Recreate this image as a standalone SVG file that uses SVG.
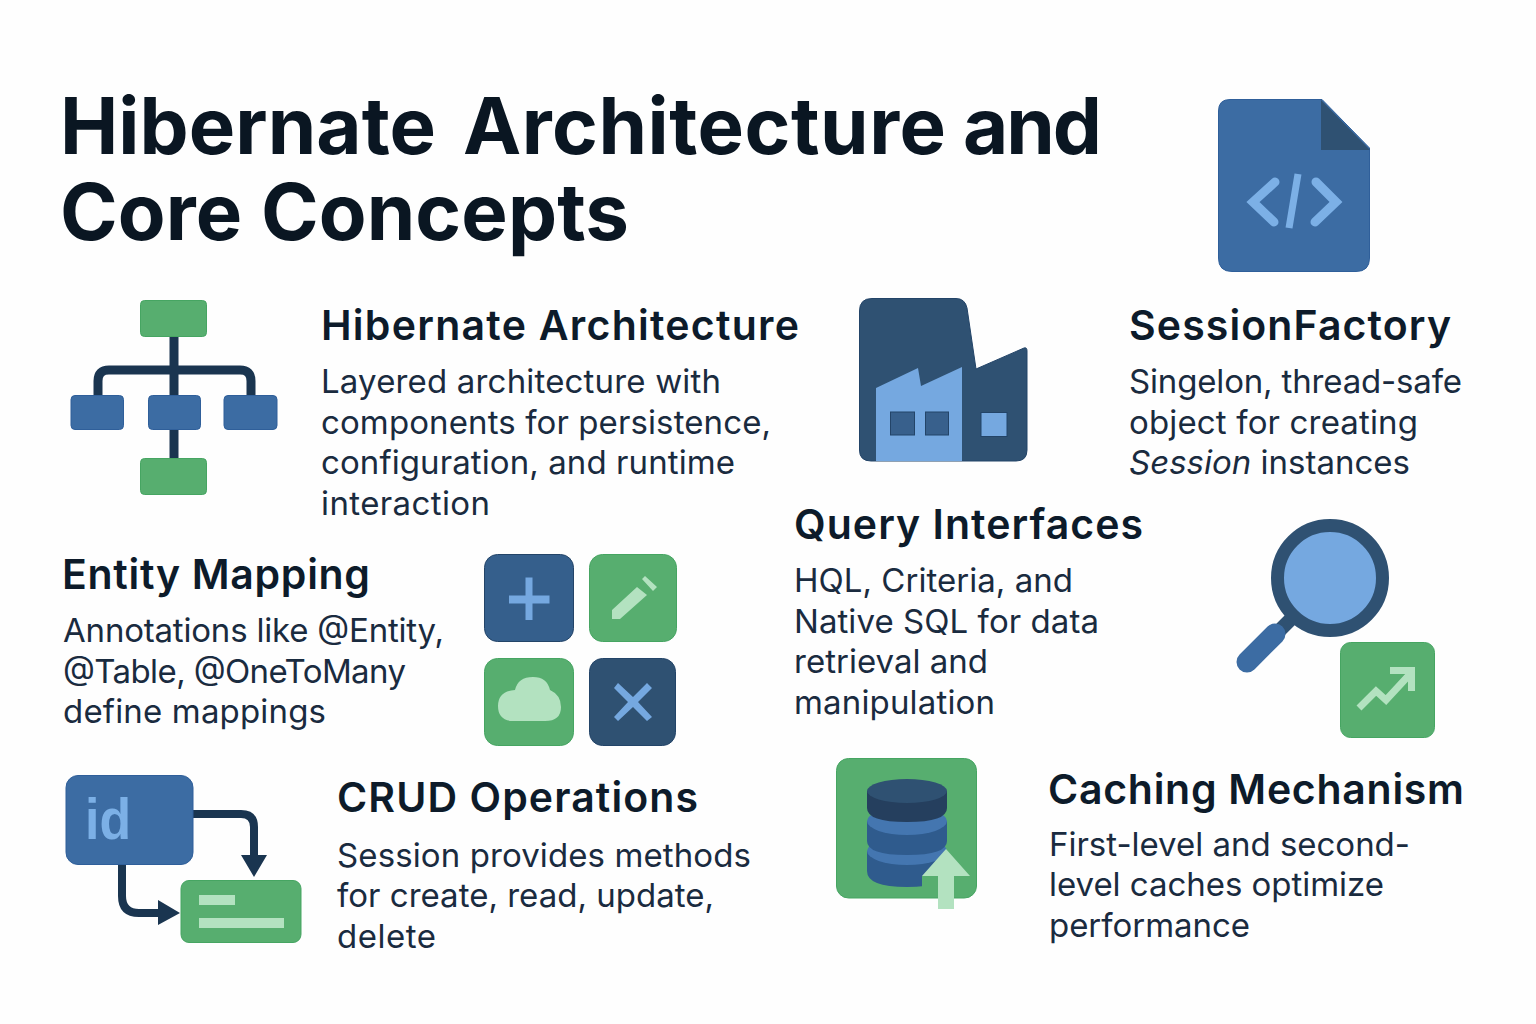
<svg xmlns="http://www.w3.org/2000/svg" width="1536" height="1024" viewBox="0 0 1536 1024">
<style>
text{font-family:Inter,"Liberation Sans",sans-serif;fill:#0d1b2a}
.t{font-size:78px;font-weight:700;fill:#0a1622}
.h{font-size:41px;font-weight:600}
.b{font-size:33px;font-weight:400;fill:#1a2b3f}
.green{fill:#57ae6f;stroke:#46a562;stroke-width:1}
.blue{fill:#3c6ca3;stroke:#2f5f9a;stroke-width:1}
.navy{fill:#2f5172;stroke:#234468;stroke-width:1}
.light{fill:#75a8e0}
.mint{fill:#b3e2c0}
.wire{fill:none;stroke:#1a3550;stroke-linejoin:round}
</style>
<rect width="1536" height="1024" fill="#fefefe"/>
<g id="title">
<text class="t" x="60" y="154" textLength="376">Hibernate</text>
<text class="t" x="463" y="154" textLength="483">Architecture</text>
<text class="t" x="963" y="154" textLength="139">and</text>
<text class="t" x="60" y="240" textLength="569">Core Concepts</text>
</g>
<g id="connectors">
<path class="wire" stroke-width="9" d="M174 337V458M98 395V381Q98 370 109 370H240Q251 370 251 381V395"/>
<path class="wire" stroke-width="8" d="M193 814H241Q254 814 254 827V858M122 865V896Q122 913 139 913H160"/>
<path d="M241 855H267L254 877ZM158 900V925L180 913Z" fill="#1a3550"/>
</g>
<g id="hibernate-architecture">
<rect class="green" x="140.500" y="300.500" width="66" height="36" rx="4"/>
<rect class="blue" x="71" y="395.500" width="52.500" height="34" rx="4"/>
<rect class="blue" x="148.500" y="395.500" width="52" height="34" rx="4"/>
<rect class="blue" x="224" y="395.500" width="53" height="34" rx="4"/>
<rect class="green" x="140.500" y="458.500" width="66" height="36" rx="4"/>
<text class="h" x="321" y="340" textLength="478">Hibernate Architecture</text>
<text class="b" x="321" y="393" textLength="400">Layered architecture with</text>
<text class="b" x="321" y="434" textLength="450">components for persistence,</text>
<text class="b" x="321" y="474" textLength="414">configuration, and runtime</text>
<text class="b" x="321" y="515" textLength="169">interaction</text>
</g>
<g id="session-factory">
<path class="navy" d="M872 298.500H956Q965 298.500 967 308L976 369L1024 348Q1027 347 1027 351V450Q1027 461 1016 461H871Q859.500 461 859.500 450V311Q859.500 298.500 872 298.500Z"/>
<path class="light" d="M876 388L918 368L921 386L962 367V461H876Z"/>
<rect class="navy" x="890.500" y="412" width="24" height="23" style="fill:#38608c"/>
<rect class="navy" x="925.500" y="412" width="23" height="23" style="fill:#38608c"/>
<rect class="light" x="981" y="412.500" width="26" height="24" stroke="#234468"/>
<text class="h" x="1129" y="340" textLength="322">SessionFactory</text>
<text class="b" x="1129" y="393" textLength="333">Singelon, thread-safe</text>
<text class="b" x="1129" y="434" textLength="289">object for creating</text>
<text class="b" x="1129" y="474" textLength="281"><tspan font-style="italic">Session</tspan> instances</text>
</g>
<g id="document">
<path class="blue" d="M1230 99.500H1322L1369.500 148V258Q1369.500 271.500 1356 271.500H1232Q1218.500 271.500 1218.500 258V111Q1218.500 99.500 1230 99.500Z"/>
<path d="M1321 100L1370 150H1321Z" fill="#2f5172"/>
<path d="M1275 182L1253 202L1274 222M1316 182L1336 202L1315 222" fill="none" stroke="#7cb0e6" stroke-width="9" stroke-linecap="round"/>
<path d="M1298 174L1289 228" fill="none" stroke="#7cb0e6" stroke-width="7"/>
</g>
<g id="entity-mapping">
<text class="h" x="62" y="589" textLength="308">Entity Mapping</text>
<text class="b" x="63" y="642" textLength="381">Annotations like @Entity,</text>
<text class="b" x="63" y="683" textLength="343">@Table, @OneToMany</text>
<text class="b" x="63" y="723" textLength="263">define mappings</text>
<rect class="navy" x="484.500" y="554.500" width="89" height="87" rx="13" style="fill:#355f8c"/>
<path d="M525.500 577.500H532.500V595.500H549.500V603.500H532.500V620H525.500V603.500H509V595.500H525.500Z" class="light"/>
<rect class="green" x="589.500" y="554.500" width="87" height="87" rx="13"/>
<path class="mint" d="M637 587L647 595L620 619H612V610ZM642 579L645 576L657 587L653 591Z"/>
<rect class="green" x="484.500" y="658.500" width="89" height="87" rx="13"/>
<path class="mint" d="M512 721Q498 720 498 706Q498 691 515 690Q518 677 533 677Q547 677 550 690Q561 695 561 707Q561 721 545 721Z"/>
<rect class="navy" x="589.500" y="658.500" width="86" height="87" rx="13"/>
<path d="M618 683L633 697L647 683L652 688L638 702L652 717L647 721L633 707L618 721L614 717L628 702L614 688Z" class="light"/>
</g>
<g id="query-interfaces">
<text class="h" x="794" y="539" textLength="349">Query Interfaces</text>
<text class="b" x="794" y="592" textLength="279">HQL, Criteria, and</text>
<text class="b" x="794" y="633" textLength="305">Native SQL for data</text>
<text class="b" x="794" y="673" textLength="194">retrieval and</text>
<text class="b" x="794" y="714" textLength="201">manipulation</text>
<path d="M1292 618L1280 630" stroke="#2f5172" stroke-width="14"/>
<path d="M1247 662L1275 634" stroke="#3c6ca3" stroke-width="21" stroke-linecap="round"/>
<circle cx="1330" cy="578" r="52.500" fill="#75a8e0" stroke="#2f5172" stroke-width="13"/>
<rect class="green" x="1340.500" y="642.500" width="94" height="95" rx="10"/>
<path d="M1359 708L1376 691L1386 700L1411 673" fill="none" stroke="#b3e2c0" stroke-width="7"/>
<path d="M1390 670.500H1411.500V691" fill="none" stroke="#b3e2c0" stroke-width="7"/>
</g>
<g id="crud-operations">
<rect class="blue" x="66" y="775.500" width="127" height="89" rx="12"/>
<text x="85" y="839" font-size="58" font-weight="700" style="fill:#7cb0e6;font-family:'Liberation Sans',sans-serif" textLength="46" lengthAdjust="spacingAndGlyphs">id</text>
<rect class="green" x="181" y="880.500" width="120" height="62" rx="8"/>
<rect class="mint" x="199" y="895" width="36" height="10"/>
<rect class="mint" x="199" y="918" width="85" height="10"/>
<text class="h" x="337" y="812" textLength="361">CRUD Operations</text>
<text class="b" x="337" y="867" textLength="414">Session provides methods</text>
<text class="b" x="337" y="907" textLength="377">for create, read, update,</text>
<text class="b" x="337" y="948" textLength="99">delete</text>
</g>
<g id="caching-mechanism">
<rect class="green" x="836.500" y="758.500" width="140" height="139.500" rx="12"/>
<path d="M867 851V871Q867 887 907 887Q947 887 947 871V851Z" fill="#2f5b8d"/>
<ellipse cx="907" cy="851" rx="40" ry="14" fill="#4476b0"/>
<path d="M867 821V841Q867 855 907 855Q947 855 947 841V821Z" fill="#2f5b8d"/>
<ellipse cx="907" cy="821" rx="40" ry="14" fill="#4476b0"/>
<path d="M867 791V808Q867 822 907 822Q947 822 947 808V791Z" fill="#253f5e"/>
<ellipse cx="907" cy="791" rx="40" ry="12" fill="#2f5172"/>
<rect x="922" y="876" width="28" height="14" fill="#57ae6f"/>
<path d="M946 849L970 876H954V909H938V876H922Z" class="mint"/>
<text class="h" x="1048" y="804" textLength="416">Caching Mechanism</text>
<text class="b" x="1049" y="856" textLength="361">First-level and second-</text>
<text class="b" x="1049" y="896" textLength="335">level caches optimize</text>
<text class="b" x="1049" y="937" textLength="201">performance</text>
</g>
</svg>
